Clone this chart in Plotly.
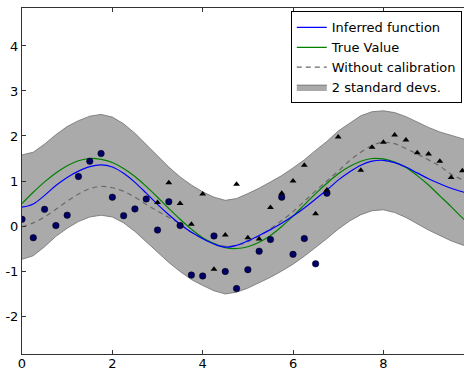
import plotly.graph_objects as go

# ---- data ----
x_grid = [0.0, 0.25, 0.5, 0.75, 1.0, 1.25, 1.5, 1.75, 2.0, 2.25, 2.5, 2.75, 3.0, 3.25, 3.5, 3.75,
          4.0, 4.25, 4.5, 4.75, 5.0, 5.25, 5.5, 5.75, 6.0, 6.25, 6.5, 6.75, 7.0, 7.25, 7.5, 7.75,
          8.0, 8.25, 8.5, 8.75, 9.0, 9.25, 9.5, 9.75, 10.0]

inferred = [0.42, 0.49, 0.68, 0.90, 1.08, 1.22, 1.32, 1.36, 1.31, 1.17, 0.97, 0.73, 0.48, 0.25, 0.04, -0.14,
            -0.28, -0.40, -0.47, -0.43, -0.33, -0.21, -0.08, 0.06, 0.22, 0.40, 0.60, 0.80, 1.02, 1.20, 1.35, 1.44,
            1.46, 1.41, 1.31, 1.18, 1.05, 0.94, 0.84, 0.76, 0.69]

true_value = [0.50, 0.75, 0.98, 1.18, 1.34, 1.45, 1.50, 1.48, 1.41, 1.28, 1.10, 0.88, 0.64, 0.39, 0.15, -0.07,
              -0.26, -0.39, -0.48, -0.50, -0.46, -0.36, -0.21, -0.01, 0.22, 0.47, 0.72, 0.95, 1.16, 1.32, 1.44, 1.50,
              1.49, 1.42, 1.30, 1.12, 0.91, 0.67, 0.43, 0.18, -0.04]

no_calibration = [-0.02, 0.07, 0.20, 0.37, 0.55, 0.71, 0.83, 0.88, 0.85, 0.77, 0.64, 0.48, 0.33, 0.19, 0.04, -0.14,
                  -0.28, -0.39, -0.45, -0.43, -0.35, -0.22, -0.06, 0.12, 0.32, 0.55, 0.78, 1.00, 1.22, 1.45, 1.64, 1.79,
                  1.86, 1.83, 1.72, 1.60, 1.47, 1.33, 1.15, 1.03, 0.92]

band_upper = [1.58, 1.64, 1.82, 2.03, 2.21, 2.34, 2.44, 2.48, 2.42, 2.27, 2.06, 1.81, 1.55, 1.31, 1.09, 0.91,
              0.76, 0.64, 0.57, 0.61, 0.72, 0.84, 0.98, 1.12, 1.29, 1.47, 1.68, 1.88, 2.11, 2.29, 2.45, 2.54,
              2.56, 2.52, 2.43, 2.31, 2.19, 2.09, 2.01, 1.94, 1.88]

band_lower = [-0.74, -0.66, -0.46, -0.23, -0.05, 0.10, 0.20, 0.24, 0.20, 0.07, -0.12, -0.35, -0.59, -0.81, -1.01, -1.19,
              -1.32, -1.44, -1.51, -1.47, -1.38, -1.26, -1.14, -1.00, -0.85, -0.67, -0.48, -0.28, -0.07, 0.11, 0.25, 0.34,
              0.36, 0.30, 0.19, 0.05, -0.09, -0.21, -0.33, -0.42, -0.50]

circle_x = [0.0, 0.25, 0.5, 0.75, 1.0, 1.25, 1.5, 1.75, 2.0, 2.25, 2.5, 2.75, 3.0, 3.25,
            3.5, 3.75, 4.0, 4.25, 4.5, 4.75, 5.0, 5.25, 5.5, 5.75, 6.0, 6.25, 6.5, 6.75]
circle_y = [0.15, -0.26, 0.37, 0.01, 0.24, 1.10, 1.44, 1.61, 0.64, 0.23, 0.38, 0.60, -0.09, 0.54,
            0.01, -1.09, -1.11, -0.22, -1.01, -1.39, -0.97, -0.56, -0.30, 0.64, -0.63, -0.28, -0.84, 0.73]

tri_x = [3.0, 3.25, 3.5, 3.75, 4.0, 4.25, 4.5, 4.75, 5.0, 5.25, 5.5, 5.75, 6.0, 6.25,
         6.5, 6.75, 7.0, 7.25, 7.5, 7.75, 8.0, 8.25, 8.5, 8.75, 9.0, 9.25, 9.5, 9.75]
tri_y = [0.52, 0.96, 0.50, 0.04, 0.71, -0.96, -0.20, 0.93, -0.26, -0.29, 0.41, 0.73, 1.00, 1.35,
         0.27, 0.80, 1.98, 2.90, 1.24, 1.75, 1.86, 2.02, 1.91, 1.63, 1.60, 1.44, 1.08, 1.23]

x_ticks = [0, 2, 4, 6, 8]
x_tick_text = ["0", "2", "4", "6", "8"]
y_ticks = [-2, -1, 0, 1, 2, 3, 4]
y_tick_text = ["-2", "-1", "0", "1", "2", "3", "4"]

fig = go.Figure()

fig.add_trace(go.Scatter(x=x_grid, y=band_lower, mode="lines", line=dict(color="#6e6e6e", width=0.8),
                         showlegend=False, hoverinfo="skip"))
fig.add_trace(go.Scatter(x=x_grid, y=band_upper, mode="lines", line=dict(color="#6e6e6e", width=0.8),
                         fill="tonexty", fillcolor="#aaaaaa", name="2 standard devs.", legendrank=4))
fig.add_trace(go.Scatter(x=x_grid, y=no_calibration, mode="lines", line_shape="spline",
                         line=dict(color="#6a6a6a", width=1.2, dash="5px,4px"),
                         name="Without calibration", legendrank=3))
fig.add_trace(go.Scatter(x=x_grid, y=true_value, mode="lines", line_shape="spline",
                         line=dict(color="#008000", width=1.2), name="True Value", legendrank=2))
fig.add_trace(go.Scatter(x=x_grid, y=inferred, mode="lines", line_shape="spline",
                         line=dict(color="#0000ff", width=1.2), name="Inferred function", legendrank=1))
fig.add_trace(go.Scatter(x=circle_x, y=circle_y, mode="markers", showlegend=False,
                         marker=dict(symbol="circle", size=6.5, color="#000066",
                                     line=dict(color="#000000", width=0.5))))
fig.add_trace(go.Scatter(x=tri_x, y=tri_y, mode="markers", showlegend=False,
                         marker=dict(symbol="triangle-up", size=6, color="#000000",
                                     line=dict(width=0))))

fig.update_layout(
    width=464, height=371,
    margin=dict(l=22, r=0, t=8, b=17),
    paper_bgcolor="white", plot_bgcolor="white",
    font=dict(family="DejaVu Sans", size=13, color="black"),
    legend=dict(x=0.995, y=0.99, xanchor="right", yanchor="top", traceorder="normal",
                bgcolor="white", bordercolor="black", borderwidth=1,
                font=dict(size=13), tracegroupgap=0),
)
fig.update_xaxes(range=[0, 9.785], showgrid=False, zeroline=False, automargin=False,
                 showline=True, linecolor="#333333", linewidth=1, mirror="ticks",
                 ticks="inside", ticklen=4, tickcolor="#333333", ticklabelstandoff=-3,
                 tickvals=x_ticks, ticktext=x_tick_text)
fig.update_yaxes(range=[-2.844, 4.844], showgrid=False, zeroline=False, automargin=False,
                 showline=True, linecolor="#333333", linewidth=1,
                 ticks="inside", ticklen=4, tickcolor="#333333",
                 tickvals=y_ticks, ticktext=y_tick_text)

fig.write_html("out.html", config={"displayModeBar": False},
               post_script="document.body.style.margin='0';document.body.style.overflow='hidden';")
